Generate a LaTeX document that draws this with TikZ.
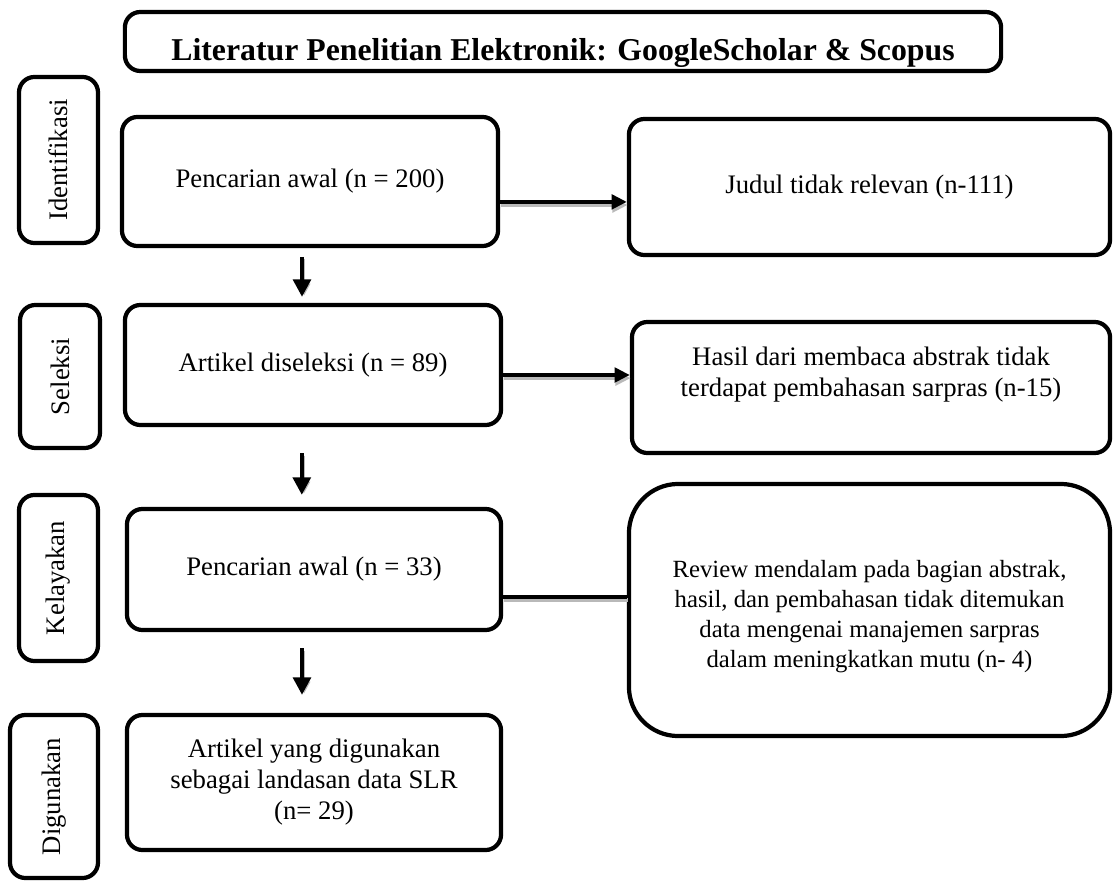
\documentclass[tikz,border=0pt]{standalone}
\usepackage{fontspec}
\setmainfont{Liberation Serif}
\usetikzlibrary{arrows.meta}

\begin{document}
\begin{tikzpicture}[x=0.025cm, y=-0.025cm, every node/.style={font=\fontsize{19}{22}\selectfont}, box/.style={draw, line width=3pt, rounded corners=11pt, align=center, inner sep=2pt}, side/.style={box, rotate=90}, hline/.style={line width=3pt, preaction={draw=gray!55, line width=3pt, transform canvas={shift={(0.6pt,-2.2pt)}}}}, harrow/.style={hline, -{Triangle[length=0.38cm, width=0.36cm]}}, varrow/.style={line width=3pt, -{Triangle[length=0.44cm, width=0.44cm]}, preaction={draw=gray!55, transform canvas={shift={(1.5pt,-1.8pt)}}}}]
	\useasboundingbox (0,0) rectangle (1116,885);
	\node[box, minimum width=21.9cm, minimum height=1.475cm, text height=1cm, text depth=0.075cm, font=\fontsize{22.6}{26}\selectfont\bfseries] (title) at (563,41.5) {Literatur Penelitian Elektronik: GoogleScholar \& Scopus};
	\node[side, minimum width=4.15cm, minimum height=1.975cm] (identifikasi) at (58.5,160) {Identifikasi};
	\node[side, minimum width=3.575cm, minimum height=2cm] (seleksilbl) at (60,376.5) {Seleksi};
	\node[side, minimum width=4.15cm, minimum height=1.975cm] (kelayakan) at (58.5,578) {Kelayakan};
	\node[side, minimum width=4.075cm, minimum height=2.2cm] (digunakan) at (54,796.5) {Digunakan};
	\node[box, minimum width=9.4cm, minimum height=3.225cm] (awal) at (310,181.5) {Pencarian awal (n = 200)};
	\node[box, minimum width=9.4cm, minimum height=3cm] (seleksi) at (313,365) {Artikel diseleksi (n = 89)};
	\node[box, minimum width=9.35cm, minimum height=3.025cm] (layak) at (314,569.5) {Pencarian awal (n = 33)};
	\node[box, minimum width=9.35cm, minimum height=3.375cm] (pakai) at (314,782.5) {Artikel yang digunakan\\sebagai landasan data SLR\\(n= 29)};
	\node[box, minimum width=12.025cm, minimum height=3.4cm] (judul) at (869.5,187) {Judul tidak relevan (n-111)};
	\node[box, minimum width=11.95cm, minimum height=3.275cm] (hasil) at (871,387.5) {Hasil dari membaca abstrak tidak\\terdapat pembahasan sarpras (n-15)\\\mbox{}};
	\node[box, rounded corners=35pt, minimum width=12.025cm, minimum height=6.3cm, font=\fontsize{17.6}{21.3}\selectfont] (review) at (869.5,610) {\mbox{}\\Review mendalam pada bagian abstrak,\\hasil, dan pembahasan tidak ditemukan\\data mengenai manajemen sarpras\\dalam meningkatkan mutu (n- 4)};
	\draw[harrow] ([yshift=-0.51cm]awal.east) -- ([yshift=-0.51cm]awal.east -| judul.west);
	\draw[harrow] ([yshift=-0.25cm]seleksi.east) -- ([yshift=-0.25cm]seleksi.east -| hasil.west);
	\draw[hline] ([yshift=-0.69cm]layak.east) -- ([yshift=-0.69cm]layak.east -| review.west);
	\draw[varrow, shorten <=0.22cm, shorten >=0.15cm] ([xshift=-0.2cm]awal.south) -- ([xshift=-0.2cm]awal.south |- seleksi.north);
	\draw[varrow, shorten <=0.65cm, shorten >=0.3cm] ([xshift=-0.28cm]seleksi.south) -- ([xshift=-0.28cm]seleksi.south |- layak.north);
	\draw[varrow, shorten <=0.4cm, shorten >=0.45cm] ([xshift=-0.3cm]layak.south) -- ([xshift=-0.3cm]layak.south |- pakai.north);
\end{tikzpicture}
\end{document}
